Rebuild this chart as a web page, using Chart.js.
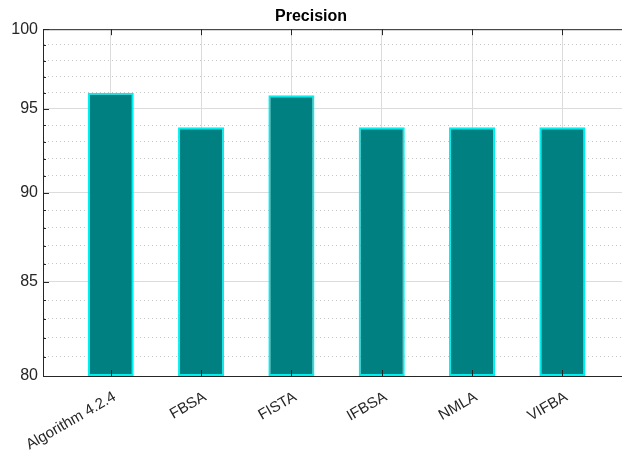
<!DOCTYPE html>
<html>
<head>
<meta charset="utf-8">
<script src="https://cdn.jsdelivr.net/npm/chart.js@4.4.1/dist/chart.umd.min.js"></script>
<style>
  html, body { margin: 0; padding: 0; background: #fff; overflow: hidden; }
  #wrap { width: 622px; height: 450px; }
</style>
</head>
<body>
<div id="wrap"><canvas id="c" width="622" height="450"></canvas></div>
<script>
// data
const algorithms = ['Algorithm 4.2.4', 'FBSA', 'FISTA', 'IFBSA', 'NMLA', 'VIFBA'];
const precision = [96, 93.88, 95.84, 93.88, 93.88, 93.88];
const yMajorTicks = [80, 85, 90, 95, 100];
const yMin = 80, yMax = 100;

const font = "'Liberation Sans', Arial, Helvetica, sans-serif";
const ink = '#262626';

// box on top + inward ticks, matlab style
const frame = {
  id: 'frame',
  afterDraw(chart) {
    const {ctx, chartArea: a, scales: {x, y}} = chart;
    ctx.save();
    ctx.strokeStyle = ink;
    ctx.lineWidth = 1;
    ctx.beginPath();
    ctx.moveTo(a.left, a.top + 0.5);
    ctx.lineTo(a.right, a.top + 0.5);
    x.ticks.forEach(t => {
      const px = Math.round(x.getPixelForValue(t.value)) + 0.5;
      ctx.moveTo(px, a.bottom); ctx.lineTo(px, a.bottom - 6);
      ctx.moveTo(px, a.top); ctx.lineTo(px, a.top + 6);
    });
    y.ticks.forEach(t => {
      const py = Math.round(y.getPixelForValue(t.value)) + 0.5;
      const len = yMajorTicks.includes(t.value) ? 6 : 3;
      ctx.moveTo(a.left, py); ctx.lineTo(a.left + len, py);
    });
    ctx.stroke();
    ctx.restore();
  }
};

new Chart(document.getElementById('c'), {
  type: 'bar',
  data: {
    datasets: [{
      data: algorithms.map((name, i) => ({x: i + 1, y: precision[i]})),
      backgroundColor: '#008080',
      borderColor: '#00f0f0',
      borderWidth: 2,
      borderSkipped: false,
      barPercentage: 0.51,
      categoryPercentage: 1
    }]
  },
  options: {
    responsive: false,
    animation: false,
    layout: { padding: 0 },
    plugins: {
      legend: { display: false },
      tooltip: { enabled: false },
      title: {
        display: true,
        text: 'Precision',
        color: '#000',
        font: { family: font, size: 16, weight: 'bold' },
        padding: { top: 7, bottom: 3 }
      }
    },
    scales: {
      x: {
        type: 'linear',
        offset: false,
        min: 0.25,
        max: 6.66,
        afterBuildTicks: s => { s.ticks = algorithms.map((n, i) => ({value: i + 1})); },
        afterFit: s => { s.height = 74; },
        ticks: {
          autoSkip: false,
          minRotation: 30,
          maxRotation: 30,
          padding: 12,
          labelOffset: 4,
          color: ink,
          font: { family: font, size: 15 },
          callback: v => algorithms[v - 1]
        },
        grid: { offset: false, color: '#dcdcdc', lineWidth: 1, drawTicks: false },
        border: { color: ink, width: 1 }
      },
      y: {
        type: 'logarithmic',
        min: yMin,
        max: yMax,
        afterBuildTicks: s => {
          const t = [];
          for (let v = yMin; v <= yMax; v++) t.push({value: v});
          s.ticks = t;
        },
        afterFit: s => { s.width = 43; },
        ticks: {
          autoSkip: false,
          padding: 5,
          color: ink,
          font: { family: font, size: 16 },
          callback: v => yMajorTicks.includes(v) ? String(v) : ''
        },
        grid: {
          drawTicks: false,
          lineWidth: 1,
          color: c => (c.tick && yMajorTicks.includes(c.tick.value)) ? '#dcdcdc' : '#c4c4c4'
        },
        border: {
          color: ink,
          width: 1,
          dash: c => (c.tick && !yMajorTicks.includes(c.tick.value)) ? [1, 3] : []
        }
      }
    }
  },
  plugins: [frame]
});
</script>
</body>
</html>
